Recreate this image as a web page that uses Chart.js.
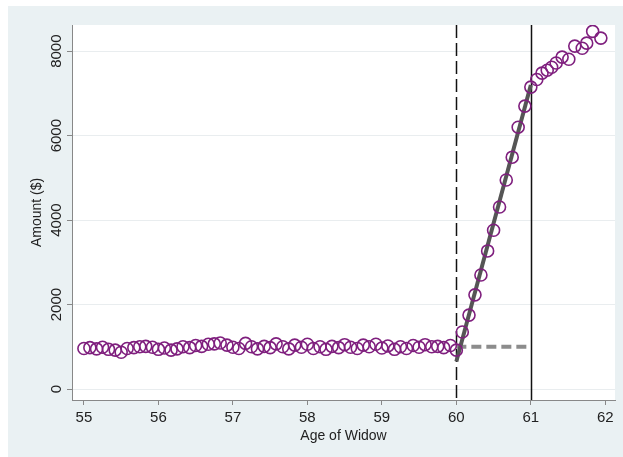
<!DOCTYPE html>
<html>
<head>
<meta charset="utf-8">
<script src="https://cdn.jsdelivr.net/npm/chart.js@4.4.0/dist/chart.umd.min.js"></script>
<style>
  html, body { margin: 0; padding: 0; background: #fff; }
  #wrap { position: relative; width: 623px; height: 457px; overflow: hidden; }
  #bg { position: absolute; left: 8px; top: 6px; right: 0; bottom: 0; background: #eaf1f3; }
  canvas { position: absolute; left: 0; top: 0; }
</style>
</head>
<body>
<div id="wrap">
  <div id="bg"></div>
  <canvas id="chart" width="623" height="457"></canvas>
</div>
<script>
// age of widow (years) for each binned mean
const ages = [
  55.00, 55.08, 55.17, 55.25, 55.33, 55.42, 55.50, 55.58, 55.67, 55.75, 55.83, 55.92,
  56.00, 56.08, 56.17, 56.25, 56.33, 56.42, 56.50, 56.58, 56.67, 56.75, 56.83, 56.92,
  57.00, 57.08, 57.17, 57.25, 57.33, 57.42, 57.50, 57.58, 57.67, 57.75, 57.83, 57.92,
  58.00, 58.08, 58.17, 58.25, 58.33, 58.42, 58.50, 58.58, 58.67, 58.75, 58.83, 58.92,
  59.00, 59.08, 59.17, 59.25, 59.33, 59.42, 59.50, 59.58, 59.67, 59.75, 59.83, 59.92,
  60.00, 60.08, 60.17, 60.25, 60.33, 60.42, 60.50, 60.58, 60.67, 60.75, 60.83, 60.92,
  61.00, 61.08, 61.15, 61.22, 61.28, 61.34, 61.42, 61.51, 61.59, 61.69, 61.75, 61.83, 61.94
];
// amount ($)
const amounts = [
  960, 980, 950, 990, 940, 920, 870, 960, 980, 1000, 1010, 990,
  940, 970, 920, 950, 1000, 980, 1030, 1010, 1060, 1070, 1090, 1040,
  990, 960, 1080, 1000, 950, 1010, 980, 1070, 1000, 950, 1040, 990,
  1060, 960, 1000, 940, 1010, 980, 1050, 990, 960, 1040, 1000, 1060,
  970, 1020, 940, 1000, 960, 1030, 990, 1050, 1000, 1010, 980, 1030,
  920, 1350, 1750, 2230, 2700, 3270, 3760, 4310, 4950, 5490, 6200, 6700,
  7150, 7330, 7480, 7550, 7620, 7720, 7860, 7810, 8120, 8070, 8190, 8470, 8310
];

// fitted lines between the two cutoffs
const fitAges = [60, 61];
const fitAmounts = [650, 7200];
const baseAmounts = [1000, 1000];
const cutoffs = [60, 61];

const xTicks = [55, 56, 57, 58, 59, 60, 61, 62];
const yTicks = [0, 2000, 4000, 6000, 8000];

const font = { family: "'Liberation Sans', Arial, sans-serif", size: 14 };
const tickFont = { family: "'Liberation Sans', Arial, sans-serif", size: 15 };

const plotBackground = {
  id: "plotBackground",
  beforeDraw(chart) {
    const { ctx, chartArea: a } = chart;
    ctx.save();
    ctx.fillStyle = "#ffffff";
    ctx.fillRect(a.left, a.top, a.right - a.left, a.bottom - a.top);
    ctx.restore();
  }
};

const cutoffLines = {
  id: "cutoffLines",
  beforeDatasetsDraw(chart) {
    const { ctx, chartArea: a, scales } = chart;
    cutoffs.forEach((c, i) => {
      const x = Math.round(scales.x.getPixelForValue(c)) + 0.5;
      ctx.save();
      ctx.strokeStyle = "#111";
      ctx.lineWidth = 1.5;
      if (i === 0) ctx.setLineDash([13, 5]);
      ctx.beginPath();
      ctx.moveTo(x, a.top);
      ctx.lineTo(x, a.bottom);
      ctx.stroke();
      ctx.restore();
    });
  }
};

new Chart(document.getElementById("chart"), {
  type: "scatter",
  data: {
    datasets: [
      {
        data: ages.map((a, i) => ({ x: a, y: amounts[i] })),
        pointStyle: "circle",
        pointRadius: 6,
        pointBorderWidth: 1.6,
        borderColor: "#7f1f7e",
        backgroundColor: "rgba(0,0,0,0)"
      },
      {
        data: fitAges.map((a, i) => ({ x: a, y: fitAmounts[i] })),
        showLine: true,
        pointRadius: 0,
        borderColor: "#555555",
        borderWidth: 4
      },
      {
        data: fitAges.map((a, i) => ({ x: a, y: baseAmounts[i] })),
        showLine: true,
        pointRadius: 0,
        borderColor: "#8c8c8c",
        borderWidth: 4,
        borderDash: [10, 5]
      }
    ]
  },
  options: {
    responsive: false,
    animation: false,
    layout: { padding: { left: 0, top: 25, right: 8, bottom: 0 } },
    plugins: {
      legend: { display: false },
      tooltip: { enabled: false }
    },
    scales: {
      x: {
        type: "linear",
        min: 54.84,
        max: 62.13,
        afterBuildTicks: s => { s.ticks = xTicks.map(v => ({ value: v })); },
        afterFit: s => { s.height = 57; },
        ticks: { color: "#222", font: tickFont, padding: 4, maxRotation: 0 },
        grid: { drawOnChartArea: false, tickLength: 5, tickColor: "#888" },
        border: { color: "#888" },
        title: { display: true, text: "Age of Widow", color: "#222", font: font, padding: { top: 0, bottom: 12 } }
      },
      y: {
        min: -260,
        max: 8620,
        afterBuildTicks: s => { s.ticks = yTicks.map(v => ({ value: v })); },
        afterFit: s => { s.width = 72; },
        ticks: {
          color: "#222", font: tickFont, minRotation: 90, maxRotation: 90, crossAlign: "center", padding: -7,
          callback: v => String(v)
        },
        grid: { color: "#e9edef", tickLength: 5, tickColor: "#888" },
        border: { color: "#888" },
        title: { display: true, text: "Amount ($)", color: "#222", font: font, padding: { top: 29, bottom: 0 } }
      }
    }
  },
  plugins: [plotBackground, cutoffLines]
});
</script>
</body>
</html>
